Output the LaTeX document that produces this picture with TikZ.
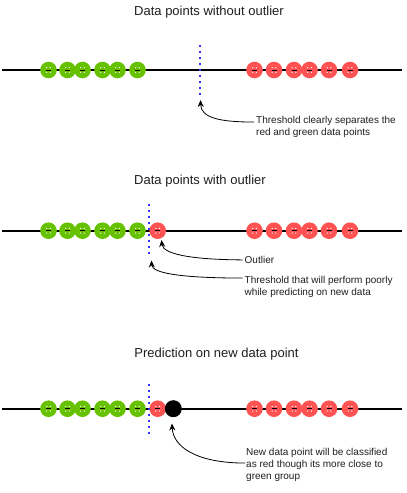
\documentclass[tikz,border=0pt]{standalone}
\usepackage{fontspec}
\setmainfont{Liberation Sans}
\usetikzlibrary{arrows.meta}
\definecolor{ptgreen}{HTML}{66C200}
\definecolor{ptred}{HTML}{FF5252}
\definecolor{thblue}{HTML}{3333FF}
\definecolor{txt}{HTML}{1F1F1F}
\begin{document}
\begin{tikzpicture}[x=1pt,y=-1pt,
  axis/.style={line width=1.6pt, black},
  ptbase/.style={circle, inner sep=0pt, minimum size=16.6pt, path picture={
    \coordinate (pc) at (path picture bounding box.center);
    \fill[white] ([xshift=-1.8pt,yshift=2.3pt]pc) circle (0.7pt);
    \fill[white] ([xshift=1.8pt,yshift=2.3pt]pc) circle (0.7pt);
    \fill[white] ([xshift=-1.8pt,yshift=-2.3pt]pc) circle (0.7pt);
    \fill[white] ([xshift=1.8pt,yshift=-2.3pt]pc) circle (0.7pt);
    \draw[black, line width=1pt] ([xshift=-2.5pt]pc) -- ([xshift=2.5pt]pc);
  }},
  gpt/.style={ptbase, fill=ptgreen},
  rpt/.style={ptbase, fill=ptred},
  newpt/.style={circle, fill=black, inner sep=0pt, minimum size=17pt},
  thresh/.style={thblue, line width=2.7pt, dash pattern=on 2.7pt off 3.3pt},
  title/.style={font=\fontsize{13}{15.6}\selectfont, text=txt, inner sep=0pt, anchor=base},
  note/.style={font=\fontsize{10}{12}\selectfont, text=txt, inner sep=0pt, align=left, anchor=base west},
  callout/.style={-{Stealth[length=7pt,width=6pt]}, line width=0.8pt, black}]
\fill[white] (0,0) rectangle (407,493);
\useasboundingbox (0,0) rectangle (407,493);

% ---------- Row 1 ----------
\node[title] (title1) at (209,15) {Data points without outlier};
\coordinate (l1a) at (2,70);
\coordinate (l1b) at (402,70);
\draw[axis] (l1a) -- (l1b);
\foreach \x [count=\i] in {48.5,67.5,82.5,102.5,117.5,137.5}
  \node[gpt] (g1\i) at (\x,70) {};
\foreach \x [count=\i] in {254.5,274,294,309.5,329,350}
  \node[rpt] (r1\i) at (\x,70) {};
\coordinate (th1a) at (200,44.6);
\coordinate (th1b) at (200,95);
\draw[thresh] (th1a) -- (th1b);
\node[note] (t1) at (256,135.5) {Threshold clearly separates the\\red and green data points};
\coordinate (tip1) at (200.5,100);
\draw[callout] ([xshift=-2pt,yshift=-6pt]t1.north west) .. controls (220,122) and (201,118) .. (tip1);

% ---------- Row 2 ----------
\node[title] (title2) at (200,184) {Data points with outlier};
\coordinate (l2a) at (2,230.7);
\coordinate (l2b) at (402,230.7);
\draw[axis] (l2a) -- (l2b);
\foreach \x [count=\i] in {48.5,67.5,82.5,102.5,117.5,137.5}
  \node[gpt] (g2\i) at (\x,230.7) {};
\node[rpt] (out2) at (157.7,230.7) {};
\foreach \x [count=\i] in {254.5,274,294,309.5,329,350}
  \node[rpt] (r2\i) at (\x,230.7) {};
\coordinate (th2a) at (149,203.6);
\coordinate (th2b) at (149,256);
\draw[thresh] (th2a) -- (th2b);
\node[note] (o2) at (244.5,263.5) {Outlier};
\node[note] (t2) at (244.5,295.5) {Threshold that will perform poorly\\while predicting on new data};
\coordinate (tip2a) at (161.5,240);
\coordinate (tip2b) at (151.5,260.5);
\draw[callout] ([xshift=-2pt]o2.west) .. controls (190,259.5) and (163,254) .. (tip2a);
\draw[callout] ([xshift=-2pt,yshift=-2pt]t2.north west) .. controls (180,278) and (152,273) .. (tip2b);

% ---------- Row 3 ----------
\node[title] (title3) at (216.5,357) {Prediction on new data point};
\coordinate (l3a) at (2,408.7);
\coordinate (l3b) at (401.5,408.7);
\draw[axis] (l3a) -- (l3b);
\foreach \x [count=\i] in {48.5,67.5,82.5,102.5,117.5,137.5}
  \node[gpt] (g3\i) at (\x,408.7) {};
\node[rpt] (out3) at (157.7,408.7) {};
\node[newpt] (new3) at (173.3,408.7) {};
\foreach \x [count=\i] in {254.5,274,294,309.5,329,350}
  \node[rpt] (r3\i) at (\x,408.7) {};
\coordinate (th3a) at (149,383.6);
\coordinate (th3b) at (149,434);
\draw[thresh] (th3a) -- (th3b);
\node[note] (t3) at (246,479.5) {New data point will be classified\\as red though its more close to\\green group};
\coordinate (tip3) at (172,423.5);
\draw[callout] ([xshift=-1pt,yshift=-15pt]t3.north west) .. controls (195,463) and (173,446) .. (tip3);
\end{tikzpicture}
\end{document}
